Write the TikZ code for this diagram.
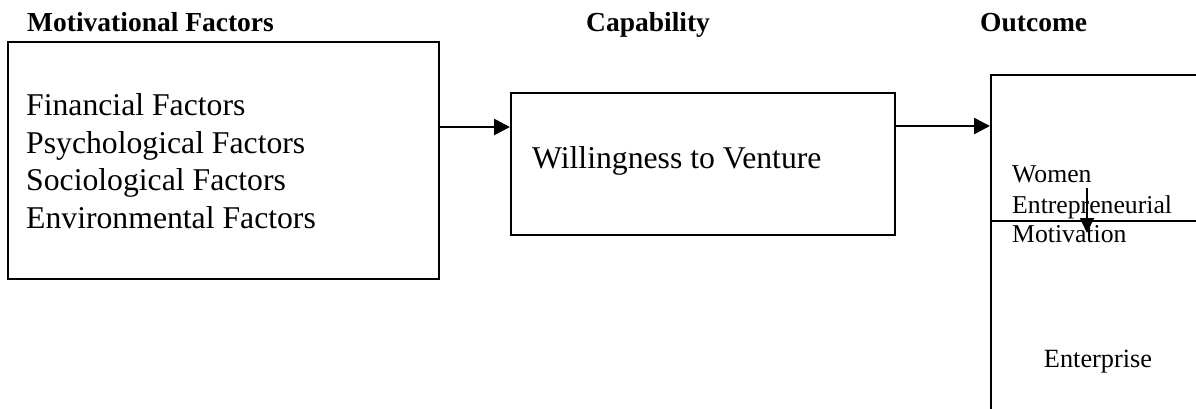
\documentclass[tikz,border=0pt]{standalone}
\usepackage{fontspec}
\setmainfont{Liberation Serif}
\usetikzlibrary{arrows.meta}
\begin{document}
\begin{tikzpicture}[x=1pt,y=-1pt,
  box/.style={draw, line width=2.4pt, inner sep=0pt, anchor=north west},
  head/.style={font=\fontsize{27.5}{33}\selectfont\bfseries, anchor=base west, inner sep=0pt},
  body/.style={font=\fontsize{31.7}{38}\selectfont, anchor=base west, inner sep=0pt},
  small/.style={font=\fontsize{25.7}{30}\selectfont, anchor=base west, inner sep=0pt},
  arr/.style={-{Triangle[length=16pt,width=16pt]}, line width=2.6pt},
  thinarr/.style={-{Triangle[length=15pt,width=14pt]}, line width=1.8pt}]
\useasboundingbox (0,0) rectangle (1196,408);
\clip (0,0) rectangle (1196,408);
% headers
\node[head] (h1) at (27,31) {Motivational Factors};
\node[head] (h2) at (586,31) {Capability};
\node[head] (h3) at (980,31) {Outcome};
% boxes
\node[box, minimum width=431pt, minimum height=237pt] (b1) at (7,41) {};
\node[box, minimum width=384pt, minimum height=142pt] (b2) at (510,92) {};
\node[box, minimum width=300pt, minimum height=400pt] (b3) at (990,74) {};
% box 1 text
\node[body] (t1) at (26,115) {Financial Factors};
\node[body] (t2) at (26,153) {Psychological Factors};
\node[body] (t3) at (26,190) {Sociological Factors};
\node[body] (t4) at (26,228) {Environmental Factors};
% box 2 text
\node[body] (t5) at (532,168) {Willingness to Venture};
% box 3 text
\node[small] (t6) at (1012,182) {Women};
\node[small] (t7) at (1012,213) {Entrepreneurial};
\node[small] (t8) at (1012,242) {Motivation};
\node[font=\fontsize{26.3}{30}\selectfont, anchor=base, inner sep=0pt] (t9) at (1098,367) {Enterprise};
% connectors
\coordinate (ya) at (0,127);
\coordinate (yb) at (0,126);
\coordinate (hl) at (0,221);
\coordinate (s1) at (1087,188);
\coordinate (s2) at (1087,233);
\draw[arr] (b1.east |- ya) -- (b2.west |- ya);
\draw[arr] (b2.east |- yb) -- (b3.west |- yb);
\draw[line width=1.8pt] (b3.west |- hl) -- (b3.east |- hl);
\draw[thinarr] (s1) -- (s2);
\end{tikzpicture}
\end{document}
